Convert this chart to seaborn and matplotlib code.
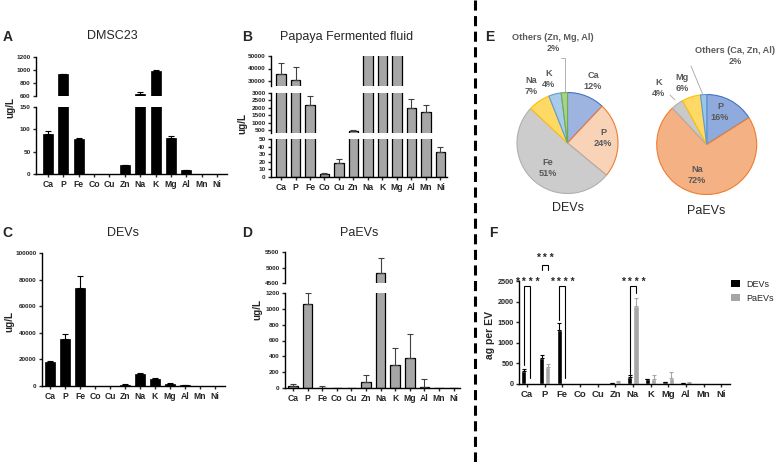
import numpy as np
import pandas as pd
import matplotlib
matplotlib.use("Agg")
import matplotlib.pyplot as plt
import seaborn as sns
from matplotlib.lines import Line2D
from matplotlib.patches import Patch

# ---------------- data ----------------
elements = ["Ca", "P", "Fe", "Co", "Cu", "Zn", "Na", "K", "Mg", "Al", "Mn", "Ni"]

dmsc23_vals = [90, 938, 78, 0, 0, 20, 630, 990, 81, 8, 0, 0]
dmsc23_err = [6, 5, 1.5, 0, 0, 1, 25, 10, 3, 1.5, 0, 0]

papaya_vals = [35400, 30800, 2200, 4, 19, 450, 60000, 60000, 60000, 2010, 1700, 33]
papaya_err = [9200, 10400, 600, 1.5, 5, 20, 0, 0, 0, 590, 500, 7]

devs_vals = [18000, 35300, 73700, 0, 0, 700, 9300, 5500, 1500, 600, 0, 0]
devs_err = [1000, 3700, 9000, 0, 0, 500, 800, 700, 500, 200, 0, 0]

paevs_vals = [30, 1060, 5, 0, 0, 80, 4820, 285, 380, 10, 0, 0]
paevs_err = [25, 140, 25, 0, 0, 85, 480, 220, 300, 105, 0, 0]

pie_dev_labels = ["Ca", "P", "Fe", "Na", "K", "Others (Zn, Mg, Al)"]
pie_dev_pct = [12, 24, 51, 7, 4, 2]
pie_pa_labels = ["P", "Na", "K", "Mg", "Others (Ca, Zn, Al)"]
pie_pa_pct = [16, 72, 4, 6, 2]

f_groups = ["DEVs", "PaEVs"]
f_devs = [316, 640, 1310, 0, 0, 30, 178, 113, 40, 15, 0, 0]
f_devs_err = [40, 65, 170, 0, 0, 5, 32, 17, 5, 3, 0, 0]
f_paevs = [5, 421, 0, 0, 0, 55, 1896, 120, 154, 25, 0, 0]
f_paevs_err = [0, 65, 0, 0, 0, 25, 186, 100, 130, 25, 0, 0]

sig_elements = ["Ca", "P", "Fe", "Na"]
sig_labels = ["****", "***", "****", "****"]

# ---------------- style ----------------
sns.set_theme(style="ticks")
plt.rcParams["font.family"] = ["Liberation Sans", "DejaVu Sans"]
plt.rcParams["axes.linewidth"] = 1.0
plt.rcParams["xtick.major.width"] = 1.0
plt.rcParams["ytick.major.width"] = 1.0
plt.rcParams["xtick.major.size"] = 2.5
plt.rcParams["ytick.major.size"] = 2.5
plt.rcParams["xtick.major.pad"] = 2
plt.rcParams["ytick.major.pad"] = 1.5
plt.rcParams["axes.edgecolor"] = "black"

W, H = 780, 462
fig = plt.figure(figsize=(W / 100, H / 100), dpi=100)
fig.patch.set_facecolor("white")


def px_axes(x0, y0, x1, y1):
    return fig.add_axes([x0 / W, 1 - y1 / H, (x1 - x0) / W, (y1 - y0) / H])


def ftext(x, y, s, **kw):
    fig.text(x / W, 1 - y / H, s, **kw)


def fline(xs, ys, **kw):
    fig.add_artist(Line2D([x / W for x in xs], [1 - y / H for y in ys], **kw))


def bar_panel(x0, x1, xlim, segments, vals, errs, fill, edge, lw, ecolor, xfs=6.2):
    df = pd.DataFrame({"element": elements, "value": vals})
    n = len(segments)
    for i, (ytop, ybot, lo, hi, ticks) in enumerate(segments):
        ax = px_axes(x0, ytop, x1, ybot)
        ax.patch.set_alpha(0)
        sns.barplot(data=df, x="element", y="value", color=fill, edgecolor=edge,
                    linewidth=lw, width=0.65, saturation=1, errorbar=None, ax=ax)
        idx = [k for k, e in enumerate(errs) if e > 0]
        if idx:
            ax.errorbar(idx, [vals[k] for k in idx],
                        yerr=[[0] * len(idx), [errs[k] for k in idx]],
                        fmt="none", ecolor=ecolor, elinewidth=0.8, capsize=2.2,
                        capthick=0.8, zorder=1)
        ax.set_xlim(*xlim)
        ax.set_ylim(lo, hi)
        ax.set_yticks(ticks)
        ax.set_yticklabels([str(t) for t in ticks], fontsize=4.6, fontweight="bold")
        ax.set_xlabel("")
        ax.set_ylabel("")
        sns.despine(ax=ax)
        if i < n - 1:
            ax.spines["bottom"].set_visible(False)
            ax.set_xticks([])
        else:
            ax.set_xticks(range(len(elements)))
            ax.set_xticklabels(elements, fontsize=xfs, fontweight="bold")


title_fs = 9
letter_fs = 10
ylab_fs = 7.2

# ---------------- Panel A ----------------
bar_panel(36, 227, (-0.78, 11.65),
          [(57, 96, 600, 1200, [600, 800, 1000, 1200]),
           (107, 174, 0, 150, [0, 50, 100, 150])],
          dmsc23_vals, dmsc23_err, "black", "black", 0.5, "black")
ftext(7.5, 37, "A", fontsize=letter_fs, fontweight="bold", ha="center", va="center")
ftext(112, 36, "DMSC23", fontsize=title_fs, ha="center", va="center")
ftext(10, 108, "ug/L", fontsize=ylab_fs, fontweight="bold", rotation=90, ha="center", va="center")

# ---------------- Panel B ----------------
bar_panel(271, 447, (-0.69, 11.45),
          [(56, 86, 26000, 50000, [30000, 40000, 50000]),
           (93, 133, 300, 3000, [500, 1000, 1500, 2000, 2500, 3000]),
           (139, 177, 0, 50, [0, 10, 20, 30, 40, 50])],
          papaya_vals, papaya_err, "#a6a6a6", "black", 0.9, "#404040")
ftext(247, 37, "B", fontsize=letter_fs, fontweight="bold", ha="center", va="center")
ftext(347, 37, "Papaya Fermented fluid", fontsize=title_fs, ha="center", va="center")
ftext(242, 124, "ug/L", fontsize=ylab_fs, fontweight="bold", rotation=90, ha="center", va="center")

# ---------------- Panel C ----------------
bar_panel(42, 225, (-0.53, 11.67),
          [(253, 386, 0, 100000, [0, 20000, 40000, 60000, 80000, 100000])],
          devs_vals, devs_err, "black", "black", 0.5, "black")
ftext(7.5, 233, "C", fontsize=letter_fs, fontweight="bold", ha="center", va="center")
ftext(123, 233, "DEVs", fontsize=title_fs, ha="center", va="center")
ftext(9, 322, "ug/L", fontsize=ylab_fs, fontweight="bold", rotation=90, ha="center", va="center")

# ---------------- Panel D ----------------
bar_panel(285, 460, (-0.55, 11.44),
          [(252, 283, 4500, 5500, [4500, 5000, 5500]),
           (293, 388, 0, 1200, [0, 200, 400, 600, 800, 1000, 1200])],
          paevs_vals, paevs_err, "#a6a6a6", "black", 0.9, "#404040")
ftext(247, 233, "D", fontsize=letter_fs, fontweight="bold", ha="center", va="center")
ftext(359, 233, "PaEVs", fontsize=title_fs, ha="center", va="center")
ftext(257, 310, "ug/L", fontsize=ylab_fs, fontweight="bold", rotation=90, ha="center", va="center")

# ---------------- dashed divider ----------------
fline([475, 475], [0, 462], color="black", lw=2.2, linestyle=(0, (3.3, 1.8)))

# ---------------- Panel E (pies) ----------------
ftext(490, 37, "E", fontsize=letter_fs, fontweight="bold", ha="center", va="center")


def draw_pie(cx, cy, r, pcts, fills, edges):
    ax = px_axes(cx - 1.2 * r, cy - 1.2 * r, cx + 1.2 * r, cy + 1.2 * r)
    wedges, _ = ax.pie(pcts, colors=fills, startangle=90, counterclock=False,
                       wedgeprops=dict(linewidth=0.8))
    for w, ec in zip(wedges, edges):
        w.set_edgecolor(ec)
    ax.set_xlim(-1.2, 1.2)
    ax.set_ylim(-1.2, 1.2)
    ax.set_aspect("equal")
    ax.axis("off")
    return ax


draw_pie(567.5, 143, 50.5, pie_dev_pct,
         ["#9db3e0", "#f9d3b8", "#cccccc", "#ffd966", "#a9cbea", "#a9d18e"],
         ["#4472c4", "#ed7d31", "#b0b0b0", "#ffc000", "#5b9bd5", "#70ad47"])
draw_pie(706.7, 144.5, 50, pie_pa_pct,
         ["#8faadc", "#f4b183", "#c9c9c9", "#ffd966", "#9dc3e6"],
         ["#4472c4", "#ed7d31", "#b0b0b0", "#ffc000", "#5b9bd5"])

lab_kw = dict(fontsize=6.6, fontweight="bold", color="#595959", ha="center",
              va="center", linespacing=1.25)
dev_pos = [(593, 81), (603, 138), (548, 168), (531, 86), (549, 79), (553, 43)]
for (x, y), name, p in zip(dev_pos, pie_dev_labels, pie_dev_pct):
    ftext(x, y, f"{name}\n{p}%", **lab_kw)
pa_pos = [(720, 112), (697, 175), (659, 88), (682, 83), (735, 56)]
for (x, y), name, p in zip(pa_pos, pie_pa_labels, pie_pa_pct):
    ftext(x, y, f"{name}\n{p}%", **lab_kw)
fline([561, 565, 565], [58, 58, 93], color="#a6a6a6", lw=0.6)
fline([691, 703], [66, 95], color="#a6a6a6", lw=0.6)
fline([670, 675], [95, 100], color="#a6a6a6", lw=0.6)

ftext(568, 208, "DEVs", fontsize=9, ha="center", va="center")
ftext(706, 211, "PaEVs", fontsize=9, ha="center", va="center")

# ---------------- Panel F ----------------
ftext(493, 233, "F", fontsize=letter_fs, fontweight="bold", ha="center", va="center")
axF = px_axes(519, 281, 730, 384)
axF.patch.set_alpha(0)
dfF = pd.DataFrame({
    "element": elements * 2,
    "group": [f_groups[0]] * len(elements) + [f_groups[1]] * len(elements),
    "value": f_devs + f_paevs,
})
f_colors = {"DEVs": "black", "PaEVs": "#a6a6a6"}
sns.barplot(data=dfF, x="element", y="value", hue="group", palette=f_colors,
            width=0.7, gap=0.15, saturation=1, errorbar=None, legend=False, ax=axF)
for cont, vals, errs, col in zip(axF.containers, [f_devs, f_paevs],
                                 [f_devs_err, f_paevs_err], ["black", "#a6a6a6"]):
    xs = [b.get_x() + b.get_width() / 2 for b in cont]
    idx = [k for k, e in enumerate(errs) if e > 0]
    axF.errorbar([xs[k] for k in idx], [vals[k] for k in idx],
                 yerr=[[0] * len(idx), [errs[k] for k in idx]], fmt="none",
                 ecolor=col, elinewidth=0.8, capsize=1.5, capthick=0.8)
axF.set_xlim(-0.45, 11.5)
axF.set_ylim(0, 2500)
yt = [0, 500, 1000, 1500, 2000, 2500]
axF.set_yticks(yt)
axF.set_yticklabels([str(t) for t in yt], fontsize=5.2, fontweight="bold")
axF.set_xticks(range(len(elements)))
axF.set_xticklabels(elements, fontsize=6.8, fontweight="bold")
axF.set_xlabel("")
axF.set_ylabel("")
sns.despine(ax=axF)
ftext(490, 335, "ag per EV", fontsize=7.5, fontweight="bold", rotation=90, ha="center", va="center")

# significance brackets
dev_x = [b.get_x() + b.get_width() / 2 for b in axF.containers[0]]
pa_x = [b.get_x() + b.get_width() / 2 for b in axF.containers[1]]
bracket = {  # top, left leg bottom, right leg bottom, text y
    "Ca": (2380, 450, 140, 2470),
    "P": (2880, 2760, 2760, 3060),
    "Fe": (2380, 1560, 140, 2470),
    "Na": (2380, 240, 2220, 2470),
}
for el, lab in zip(sig_elements, sig_labels):
    k = elements.index(el)
    top, lb, rb, ty = bracket[el]
    xl, xr = dev_x[k], pa_x[k]
    axF.plot([xl, xl, xr, xr], [lb, top, top, rb], color="black", lw=0.8,
             clip_on=False, solid_joinstyle="miter")
    axF.text((xl + xr) / 2, ty, " ".join(lab), ha="center", va="center", fontsize=7.5,
             fontweight="bold", clip_on=False)

handles = [Patch(facecolor=f_colors[g], edgecolor="none") for g in f_groups]
fig.legend(handles, f_groups, loc="upper left", bbox_to_anchor=(731 / W, 1 - 280 / H),
           frameon=False, fontsize=6.5, handlelength=1.0, handleheight=0.8,
           handletextpad=0.7, labelspacing=0.55, borderpad=0, borderaxespad=0)

fig.savefig("out.png", dpi=100, facecolor="white")
